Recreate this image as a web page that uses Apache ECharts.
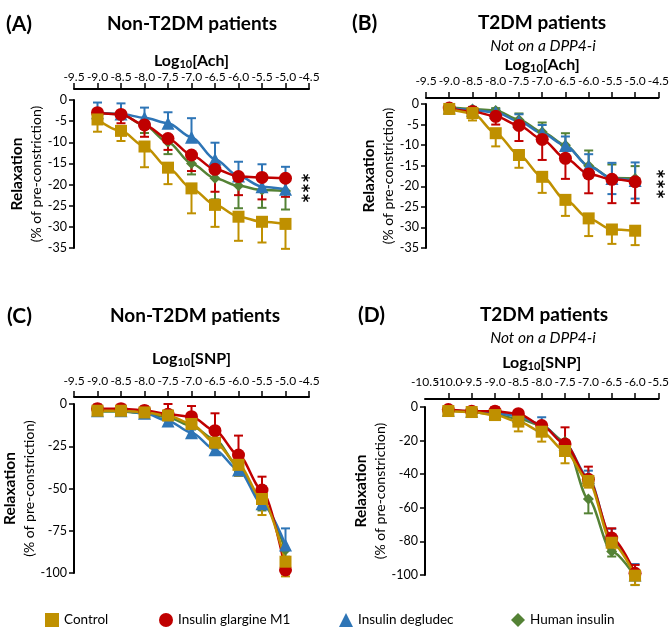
<!DOCTYPE html>
<html>
<head>
<meta charset="utf-8">
<script src="https://cdn.jsdelivr.net/npm/echarts@6/dist/echarts.min.js"></script>
<style>
html,body{margin:0;padding:0;background:#fff;}
#chart{width:672px;height:628px;}
</style>
</head>
<body>
<div id="chart"></div>
<script>
// ---------- data ----------
const seriesNames = ['Control', 'Insulin glargine M1', 'Insulin degludec', 'Human insulin'];

// log10 concentrations
const concABC = [-9.0, -8.5, -8.0, -7.5, -7.0, -6.5, -6.0, -5.5, -5.0];
const concD = [-10.0, -9.5, -9.0, -8.5, -8.0, -7.5, -7.0, -6.5, -6.0];

// Panel A: Non-T2DM, Ach
const ctlA = [-4.6, -7.3, -11.0, -16.0, -20.9, -24.8, -27.6, -28.8, -29.3];
const ctlAErr = [2.9, 2.4, 4.9, 3.9, 5.9, 5.2, 5.7, 4.9, 5.9];
const glaA = [-3.0, -3.4, -5.9, -9.1, -13.0, -16.4, -18.1, -18.3, -18.5];
const glaAErr = [0.8, 2.1, 2.8, 2.7, 3.8, 5.3, 4.4, 5.2, 4.4];
const degA = [-3.0, -3.3, -4.2, -5.5, -8.8, -14.0, -18.0, -20.5, -21.1];
const degAErr = [2.4, 2.5, 2.4, 2.6, 4.5, 3.9, 3.4, 5.3, 5.3];
const humA = [-3.0, -3.3, -6.0, -10.0, -15.0, -18.5, -20.3, -21.3, -21.5];
const humAErr = [0.7, 1.0, 1.8, 2.8, 2.6, 5.0, 5.3, 4.2, 4.4];

// Panel B: T2DM not on DPP4-i, Ach
const ctlB = [-1.2, -2.2, -7.1, -12.4, -17.7, -23.3, -27.8, -30.5, -30.8];
const ctlBErr = [0.6, 1.8, 3.2, 3.1, 3.9, 3.9, 4.3, 3.5, 3.5];
const glaB = [-1.0, -1.8, -3.0, -5.2, -8.6, -13.2, -17.0, -18.3, -18.9];
const glaBErr = [0.5, 1.0, 2.0, 3.8, 5.0, 5.0, 4.7, 5.8, 5.2];
const degB = [-1.0, -1.5, -2.0, -4.2, -7.1, -10.1, -15.1, -18.1, -18.6];
const degBErr = [0.4, 0.6, 0.8, 1.7, 2.0, 2.2, 2.9, 3.8, 4.4];
const humB = [-0.8, -1.2, -1.6, -3.8, -6.8, -10.0, -15.0, -18.0, -18.1];
const humBErr = [0.3, 0.5, 0.6, 1.5, 2.3, 2.9, 3.7, 3.3, 3.0];

// Panel C: Non-T2DM, SNP
const ctlC = [-4.0, -4.0, -5.0, -6.8, -11.8, -22.9, -36.0, -56.2, -93.3];
const ctlCErr = [1.0, 1.0, 1.0, 1.5, 2.5, 3.5, 6.6, 9.5, 8.7];
const glaC = [-2.8, -2.8, -3.8, -6.0, -7.5, -15.8, -30.2, -50.9, -98.2];
const glaCErr = [2.5, 2.5, 2.3, 6.0, 6.3, 10.3, 11.5, 7.9, 0];
const degC = [-4.0, -4.0, -5.5, -10.0, -17.0, -27.0, -39.0, -59.0, -83.4];
const degCErr = [1.0, 1.0, 1.0, 1.5, 2.0, 2.5, 3.0, 10.5, 9.8];
const humC = [-4.5, -4.5, -5.5, -8.0, -13.0, -21.0, -37.0, -58.0, -86.4];
const humCErr = [1.0, 1.0, 1.0, 1.5, 2.0, 3.0, 3.0, 5.0, 4.0];

// Panel D: T2DM not on DPP4-i, SNP
const ctlD = [-2.4, -3.0, -4.8, -8.7, -14.7, -26.2, -44.0, -80.8, -100.4];
const ctlDErr = [1.0, 1.0, 2.2, 5.8, 5.9, 7.3, 4.0, 4.0, 5.5];
const glaD = [-1.5, -2.5, -2.5, -4.0, -11.0, -22.0, -43.0, -78.0, -99.0];
const glaDErr = [1.0, 1.0, 2.5, 1.5, 1.7, 9.9, 7.5, 5.8, 5.0];
const degD = [-2.0, -2.5, -3.5, -5.5, -10.5, -22.0, -42.0, -79.0, -100.0];
const degDErr = [1.0, 1.0, 1.0, 1.0, 4.4, 2.0, 4.1, 6.5, 6.5];
const humD = [-2.0, -3.0, -4.5, -7.0, -11.0, -20.6, -54.8, -86.0, -101.0];
const humDErr = [1.0, 1.0, 1.0, 1.5, 1.5, 2.0, 8.5, 3.0, 5.0];

// axis ranges
const xRangeABC = [-9.5, -4.5];
const xRangeD = [-10.5, -5.5];
const yAch = [-35, 0, 5];
const ySnpC = [-100, 0, 25];
const ySnpD = [-100, 0, 20];

// ---------- styling ----------
const FONT = 'Lato, "Open Sans", sans-serif';
const colors = { 'Control': '#BF9000', 'Insulin glargine M1': '#C00000', 'Insulin degludec': '#2E75B6', 'Human insulin': '#548235' };
const symbols = { 'Control': 'rect', 'Insulin glargine M1': 'circle', 'Insulin degludec': 'triangle', 'Human insulin': 'diamond' };
const symSizes = { 'Control': 12, 'Insulin glargine M1': 13, 'Insulin degludec': 13, 'Human insulin': 11 };
const drawOrder = ['Human insulin', 'Insulin degludec', 'Insulin glargine M1', 'Control'];

const panels = [
  { grid: { left: 74, top: 100, width: 235, height: 148 }, x: concABC, xr: xRangeABC, yr: yAch, drug: 'Ach',
    xOffset: 11, xMargin: 6, xNameGap: 14, yNameGap: 27,
    sets: {
      'Control': [ctlA, ctlAErr, 'down'], 'Insulin glargine M1': [glaA, glaAErr, 'down'],
      'Insulin degludec': [degA, degAErr, 'up'], 'Human insulin': [humA, humAErr, 'down'] } },
  { grid: { left: 426, top: 104, width: 233, height: 144 }, x: concABC, xr: xRangeABC, yr: yAch, drug: 'Ach',
    xOffset: 6, xMargin: 11, xNameGap: 23, yNameGap: 22,
    sets: {
      'Control': [ctlB, ctlBErr, 'down'], 'Insulin glargine M1': [glaB, glaBErr, 'down'],
      'Insulin degludec': [degB, degBErr, 'both'], 'Human insulin': [humB, humBErr, 'up'] } },
  { grid: { left: 74, top: 404, width: 235, height: 169 }, x: concABC, xr: xRangeABC, yr: ySnpC, drug: 'SNP',
    xOffset: 7, xMargin: 10, xNameGap: 29, yNameGap: 25,
    sets: {
      'Control': [ctlC, ctlCErr, 'down'], 'Insulin glargine M1': [glaC, glaCErr, 'up'],
      'Insulin degludec': [degC, degCErr, 'up'], 'Human insulin': [humC, humCErr, 'down'] } },
  { grid: { left: 425, top: 407, width: 242, height: 168 }, x: concD, xr: xRangeD, yr: ySnpD, drug: 'SNP',
    xOffset: 8, xMargin: 11, xNameGap: 27, yNameGap: 24,
    sets: {
      'Control': [ctlD, ctlDErr, 'down'], 'Insulin glargine M1': [glaD, glaDErr, 'up'],
      'Insulin degludec': [degD, degDErr, 'up'], 'Human insulin': [humD, humDErr, 'down'] } }
];

function renderErr(params, api) {
  const x = api.value(0), v = api.value(1), lo = api.value(2), hi = api.value(3);
  const pHi = api.coord([x, hi]);
  const pLo = api.coord([x, lo]);
  const color = api.visual('color');
  const style = { stroke: color, lineWidth: 2, fill: null };
  const hw = 4.5;
  const ch = [{ type: 'line', shape: { x1: pHi[0], y1: pHi[1], x2: pLo[0], y2: pLo[1] }, style }];
  if (hi > v) ch.push({ type: 'line', shape: { x1: pHi[0] - hw, y1: pHi[1], x2: pHi[0] + hw, y2: pHi[1] }, style });
  if (lo < v) ch.push({ type: 'line', shape: { x1: pLo[0] - hw, y1: pLo[1], x2: pLo[0] + hw, y2: pLo[1] }, style });
  return { type: 'group', children: ch };
}

const fmt1 = v => v.toFixed(1);
const grids = [], xAxes = [], yAxes = [], series = [];
panels.forEach((p, idx) => {
  grids.push(Object.assign({ containLabel: false }, p.grid));
  xAxes.push({
    type: 'value', gridIndex: idx, position: 'top', offset: p.xOffset,
    min: p.xr[0], max: p.xr[1], interval: 0.5,
    axisLine: { show: true, onZero: false, lineStyle: { color: '#000', width: 2 } },
    axisTick: { show: true, length: 6, lineStyle: { color: '#000', width: 1.5 } },
    axisLabel: { margin: p.xMargin, color: '#000', fontSize: 12, fontFamily: FONT,
      showMinLabel: idx === 3 ? false : true, showMaxLabel: true, hideOverlap: false,
      formatter: fmt1 },
    splitLine: { show: false },
    name: '{a|Log}{s|10}{a|[' + p.drug + ']}', nameLocation: 'middle', nameGap: p.xNameGap,
    nameTextStyle: { rich: {
      a: { fontFamily: FONT, fontWeight: 'bold', fontSize: 16, color: '#000', lineHeight: 18 },
      s: { fontFamily: FONT, fontWeight: 'bold', fontSize: 11, color: '#000', verticalAlign: 'bottom', lineHeight: 11 } } }
  });
  yAxes.push({
    type: 'value', gridIndex: idx, position: 'left',
    min: p.yr[0], max: p.yr[1], interval: p.yr[2],
    axisLine: { show: true, onZero: false, lineStyle: { color: '#000', width: 2 } },
    axisTick: { show: true, length: 5, lineStyle: { color: '#000', width: 1.5 } },
    axisLabel: { margin: 7, color: '#000', fontSize: 12.5, fontFamily: FONT },
    splitLine: { show: false },
    name: '{b|Relaxation}\n{r|(% of pre-constriction)}', nameLocation: 'middle', nameRotate: 90, nameGap: p.yNameGap,
    nameTextStyle: { rich: {
      b: { fontFamily: FONT, fontWeight: 'bold', fontSize: 15.5, color: '#000', lineHeight: 20 },
      r: { fontFamily: FONT, fontSize: 14, color: '#000', lineHeight: 20 } } }
  });
  drawOrder.forEach(name => {
    const [vals, err, dir] = p.sets[name];
    const col = colors[name];
    series.push({
      type: 'custom', name, xAxisIndex: idx, yAxisIndex: idx, silent: true,
      itemStyle: { color: col },
      renderItem: renderErr,
      encode: { x: 0, y: 1 },
      data: p.x.map((xv, i) => [xv, vals[i],
        dir === 'up' ? vals[i] : vals[i] - err[i],
        dir === 'down' ? vals[i] : vals[i] + err[i]])
    });
    series.push({
      type: 'line', name, xAxisIndex: idx, yAxisIndex: idx, clip: false,
      smooth: 0.3, smoothMonotone: 'x',
      symbol: symbols[name], symbolSize: symSizes[name],
      lineStyle: { color: col, width: 2.5 },
      itemStyle: { color: col },
      emphasis: { disabled: true },
      data: p.x.map((xv, i) => [xv, vals[i]])
    });
  });
});

// companion axis on panel D carrying only the minimum label (avoids auto-hiding of overlapping first labels)
xAxes.push({
  type: 'value', gridIndex: 3, position: 'top', offset: panels[3].xOffset,
  min: xRangeD[0], max: xRangeD[1], interval: 0.5,
  axisLine: { show: false }, axisTick: { show: false }, splitLine: { show: false },
  axisLabel: { margin: panels[3].xMargin, color: '#000', fontSize: 12, fontFamily: FONT,
    showMinLabel: true, showMaxLabel: false, hideOverlap: false,
    formatter: v => (v === xRangeD[0] ? fmt1(v) : '') }
});

const legendLefts = [45, 159, 339, 511];
const legends = seriesNames.map((n, i) => ({
  data: [{ name: n, icon: symbols[n] }],
  left: legendLefts[i], top: 613, padding: 0, itemWidth: 14, itemHeight: 14, itemGap: 0,
  textStyle: { fontFamily: FONT, fontSize: 13.5, color: '#000' },
  itemStyle: { color: colors[n] }
}));

function txt(text, x, y, opts) {
  return { type: 'text', x, y, silent: true, style: Object.assign({
    text, fill: '#000', fontFamily: FONT, fontSize: 19, fontWeight: 'bold',
    textAlign: 'center', textVerticalAlign: 'middle' }, opts || {}) };
}

const graphics = [
  txt('(A)', 6, 24, { textAlign: 'left', fontSize: 21 }),
  txt('Non-T2DM patients', 192, 24),
  txt('(B)', 352, 23, { textAlign: 'left', fontSize: 21 }),
  txt('T2DM patients', 542, 23),
  txt('Not on a DPP4-i', 543, 46, { fontSize: 15.5, fontWeight: 'normal', fontStyle: 'italic' }),
  txt('(C)', 7, 316, { textAlign: 'left', fontSize: 21 }),
  txt('Non-T2DM patients', 195, 316),
  txt('(D)', 358, 315, { textAlign: 'left', fontSize: 21 }),
  txt('T2DM patients', 544, 315),
  txt('Not on a DPP4-i', 543, 338, { fontSize: 15.5, fontWeight: 'normal', fontStyle: 'italic' }),
  Object.assign(txt('***', 299, 188, { fontSize: 24 }), { rotation: -Math.PI / 2 }),
  Object.assign(txt('***', 654, 184, { fontSize: 24 }), { rotation: -Math.PI / 2 })
];

const chart = echarts.init(document.getElementById('chart'), null, { renderer: 'canvas' });
chart.setOption({
  animation: false,
  backgroundColor: '#fff',
  textStyle: { fontFamily: FONT },
  grid: grids, xAxis: xAxes, yAxis: yAxes,
  legend: legends,
  series,
  graphic: graphics
});
</script>
</body>
</html>
